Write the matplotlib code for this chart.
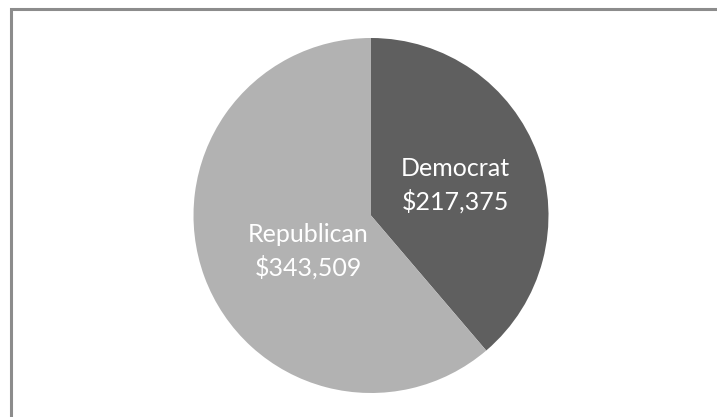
import matplotlib
matplotlib.use("Agg")
import matplotlib.pyplot as plt
from matplotlib.patches import Rectangle

categories = ["Democrat", "Republican"]
values = [217375, 343509]
colors = ["#5f5f5f", "#b2b2b2"]

W, H = 717, 417
fig = plt.figure(figsize=(W / 100, H / 100), dpi=100)
fig.patch.set_facecolor("white")

# outer chart border (only top/left visible in the crop)
fig.patches.append(Rectangle((10.5 / W, -0.1), 1.2, (H - 9) / H + 0.1,
                             transform=fig.transFigure, fill=False,
                             edgecolor="#8c8c8c", linewidth=2.2))

cx, cy, r = 371, H - 215.5, 177.5
ax = fig.add_axes([(cx - r) / W, (cy - r) / H, 2 * r / W, 2 * r / H])
wedges, texts = ax.pie(values, colors=colors, startangle=90, counterclock=False,
                       radius=1.0, labels=None,
                       wedgeprops=dict(linewidth=0))
ax.set_xlim(-1, 1)
ax.set_ylim(-1, 1)
ax.set_aspect("equal")
ax.axis("off")

label_pos = [(0.475, 0.17), (-0.355, -0.2)]
for cat, val, (x, y) in zip(categories, values, label_pos):
    ax.text(x, y, f"{cat}\n${val:,}", ha="center", va="center", color="white",
            fontsize=18, family="Lato", linespacing=1.45)

fig.savefig("out.png", dpi=100)
